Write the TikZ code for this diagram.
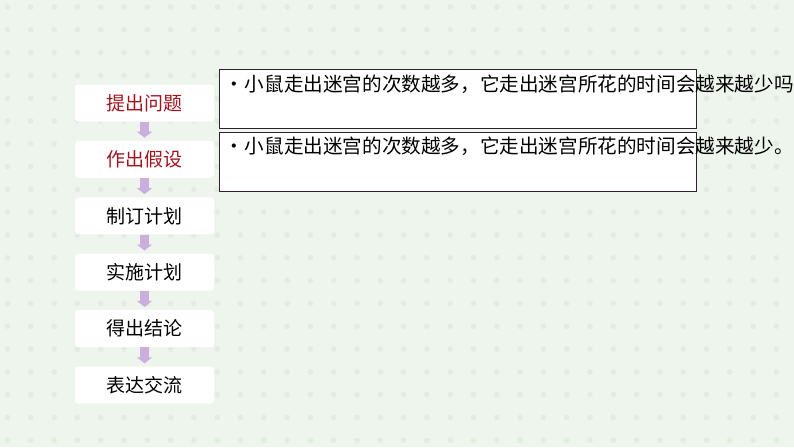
\documentclass[tikz,border=0pt]{standalone}
\usepackage{fontspec}
\setmainfont{Noto Sans CJK SC}
\usetikzlibrary{positioning,arrows.meta}
\definecolor{bgcol}{HTML}{EEF5EC}
\definecolor{dotcol}{HTML}{E3ECE1}
\definecolor{stepred}{HTML}{A3131F}
\definecolor{lavender}{HTML}{CBAEDC}
\definecolor{framecol}{HTML}{2E222E}
\tikzset{
  stepbox/.style={fill=white,rounded corners=3pt,minimum width=139pt,minimum height=37pt,
    inner sep=0pt,font=\fontsize{19}{22}\selectfont},
  flowarrow/.style={lavender,line width=9pt,-{Triangle[width=15pt,length=6pt]},shorten >=3pt},
  answerbox/.style={draw=framecol,line width=1.2pt,fill=white,minimum width=477pt,
    minimum height=59pt,anchor=north west,inner sep=0pt},
  answertext/.style={anchor=west,inner sep=0pt,font=\fontsize{19.6}{22}\selectfont}
}
\begin{document}
\begin{tikzpicture}[x=1pt,y=-1pt,node distance=19pt]
\useasboundingbox (0,0) rectangle (794,447);
\fill[bgcol] (0,0) rectangle (794,447);
\foreach \i in {0,...,33}
  \foreach \j in {0,...,19}
    \fill[dotcol] (7.5+23.3*\i,7+22.8*\j) circle (2.8);
% steps
\node[stepbox,text=stepred] (ask) at (144.5,103) {提出问题};
\node[stepbox,text=stepred,below=of ask] (guess) {作出假设};
\node[stepbox,below=of guess] (plan) {制订计划};
\node[stepbox,below=of plan] (act) {实施计划};
\node[stepbox,below=of act] (conclude) {得出结论};
\node[stepbox,below=of conclude] (share) {表达交流};
\foreach \a/\b in {ask/guess,guess/plan,plan/act,act/conclude,conclude/share}
  \draw[flowarrow] (\a.south) -- (\b.north);
% question and hypothesis
\node[answerbox] (qbox) at (219,69) {};
\node[answerbox] (hbox) at (219,132) {};
\node[answertext] (qtext) at (224,84) {•\hspace{1pt}小鼠走出迷宫的次数越多，它走出迷宫所花的时间会越来越少吗};
\node[answertext] (htext) at (224,146) {•\hspace{1pt}小鼠走出迷宫的次数越多，它走出迷宫所花的时间会越来越少。};
\end{tikzpicture}
\end{document}
